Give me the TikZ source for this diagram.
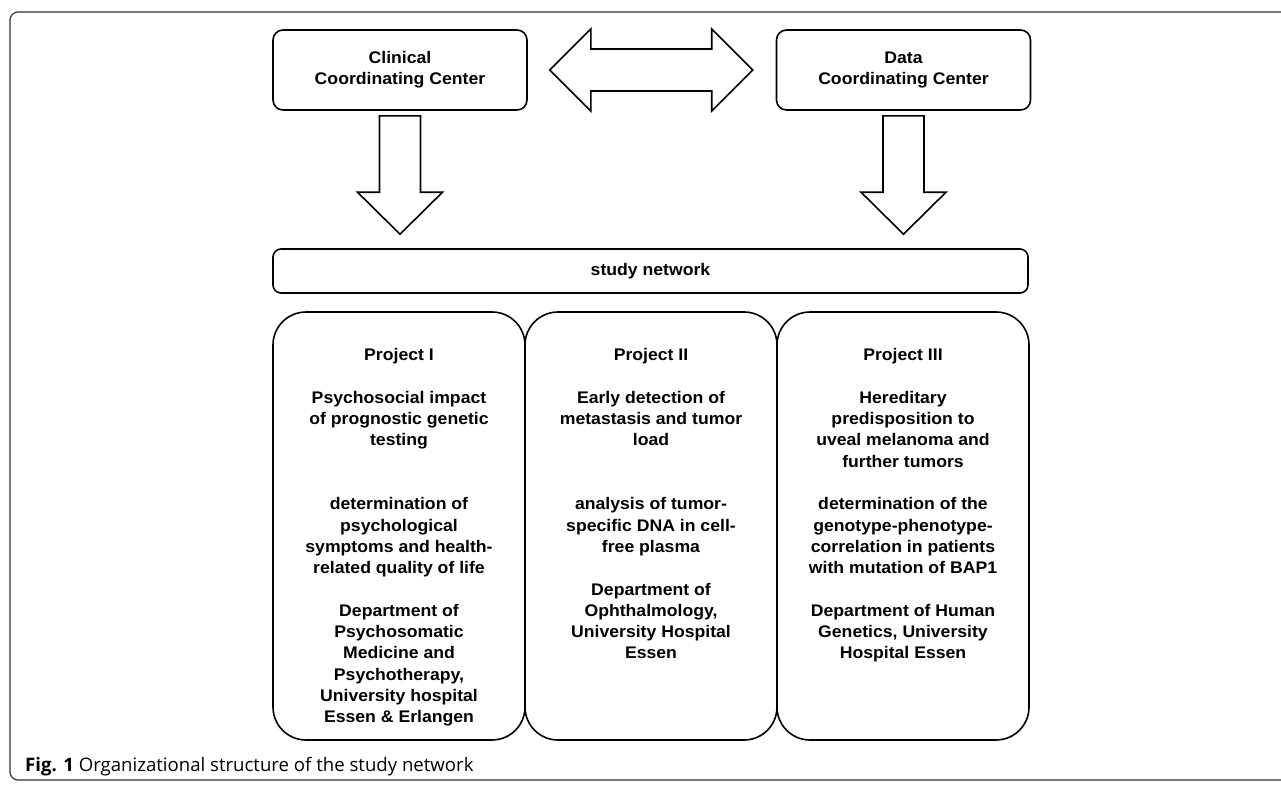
\documentclass[tikz,border=0pt]{standalone}
\usepackage{fontspec}
\newfontfamily\boxfont{Liberation Sans}[FakeStretch=1.05]
\newfontfamily\capfont{Open Sans}
\usetikzlibrary{positioning}
\tikzset{
  center box/.style={draw, line width=1.6pt, rounded corners=10pt, minimum width=254pt,
    minimum height=80pt, align=center, inner sep=0pt,
    font=\boxfont\bfseries\fontsize{16.8}{21}\selectfont},
  project box/.style={draw, line width=1.6pt, rounded corners=33pt, minimum width=252pt,
    minimum height=428pt, inner sep=0pt, outer sep=0pt},
  project text/.style={anchor=north, align=center, inner sep=0pt,
    font=\boxfont\bfseries\fontsize{16.8}{21.3}\selectfont},
  block arrow/.style={draw, line width=1.6pt, line join=miter},
}

\begin{document}
\begin{tikzpicture}[x=1pt,y=-1pt]
        \useasboundingbox (0,0) rectangle (1281,784);
        % Draw the figure frame
        \draw[line width=1.2pt, draw=black!80, rounded corners=8pt] (10,12) rectangle (1300,780);
        % Coordinating centers and study network
        \node[center box] (ccc) at (400,70) {Clinical\\Coordinating Center};
        \node[center box] (dcc) at (903.5,70) {Data\\Coordinating Center};
        \node[center box, minimum width=755pt, minimum height=44pt, rounded corners=8pt] (net) at (650.5,271) {study network};
        % Double arrow between the centers
        \coordinate (dl) at ([xshift=22pt]ccc.east);
        \coordinate (dr) at ([xshift=-23pt]dcc.west);
        \draw[block arrow] (dl) -- ++(41,-41) -- ++(0,20) -- ([xshift=-41pt,yshift=21pt]dr) -- ++(0,-20)
          -- (dr) -- ++(-41,41) -- ++(0,-20) -- ([xshift=41pt,yshift=-21pt]dl) -- ++(0,20) -- cycle;
        % Down arrows into the study network
        \foreach \src in {ccc,dcc} {
          \coordinate (top-\src) at ([yshift=-5pt]\src.south);
          \coordinate (tip-\src) at ([yshift=14pt]net.north -| \src.south);
          \draw[block arrow] ([xshift=-20.5pt]top-\src) -- ([xshift=-20.5pt,yshift=42pt]tip-\src) -- ++(-22,0)
            -- (tip-\src) -- ++(42.5,-42) -- ++(-22,0) -- ([xshift=20.5pt]top-\src) -- cycle;
        }
        % Project boxes
        \node[project box] (p1) at (399,526) {};
        \node[project box, right=0pt of p1] (p2) {};
        \node[project box, right=0pt of p2] (p3) {};
        \node[project text] (t1) at ([yshift=-33.6pt]p1.north) {\strut Project I\\[21.3pt]
          Psychosocial impact\\of prognostic genetic\\testing\\[42.6pt]
          determination of\\psychological\\symptoms and health-\\related quality of life\\[21.3pt]
          Department of\\Psychosomatic\\Medicine and\\Psychotherapy,\\University hospital\\Essen \& Erlangen};
        \node[project text] (t2) at ([yshift=-33.6pt]p2.north) {\strut Project II\\[21.3pt]
          Early detection of\\metastasis and tumor\\load\\[42.6pt]
          analysis of tumor-\\specific DNA in cell-\\free plasma\\[21.3pt]
          Department of\\Ophthalmology,\\University Hospital\\Essen};
        \node[project text] (t3) at ([yshift=-33.6pt]p3.north) {\strut Project III\\[21.3pt]
          Hereditary\\predisposition to\\uveal melanoma and\\further tumors\\[21.3pt]
          determination of the\\genotype-phenotype-\\correlation in patients\\with mutation of BAP1\\[21.3pt]
          Department of Human\\Genetics, University\\Hospital Essen};
        % Caption
        \node[anchor=west, inner sep=0pt, font=\capfont\fontsize{18.6}{22}\selectfont] (cap) at (25,767)
          {\textbf{Fig. 1} Organizational structure of the study network};
      \end{tikzpicture}
\end{document}
